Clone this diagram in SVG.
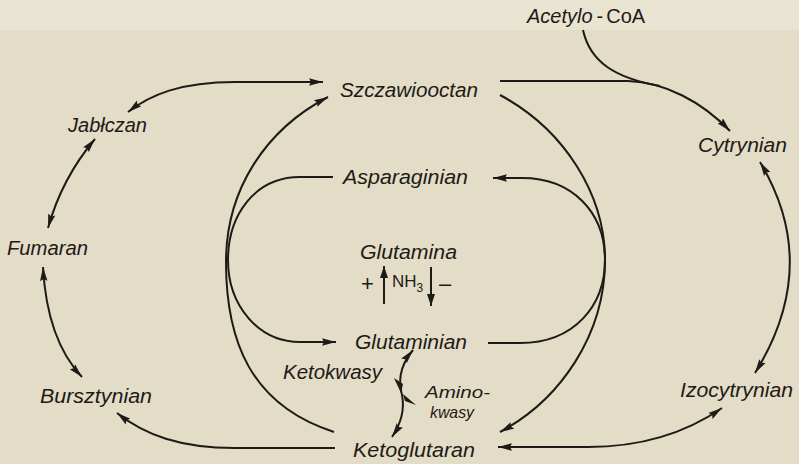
<svg xmlns="http://www.w3.org/2000/svg" width="799" height="464" viewBox="0 0 799 464">
<defs>
<style>
.lbl{font-family:"Liberation Sans","DejaVu Sans",sans-serif;font-style:italic;font-size:20px;fill:#1e1a16}
.sm{font-family:"Liberation Sans","DejaVu Sans",sans-serif;font-style:italic;font-size:17px;fill:#1e1a16}
.up{font-family:"Liberation Sans","DejaVu Sans",sans-serif;font-size:17px;fill:#1e1a16}
.big{font-family:"Liberation Sans","DejaVu Sans",sans-serif;font-size:22px;fill:#1e1a16}
.ln{fill:none;stroke:#1e1a16;stroke-width:2}
</style>
<marker id="ah" markerUnits="userSpaceOnUse" markerWidth="15" markerHeight="9" refX="14" refY="4.5" orient="auto-start-reverse" viewBox="0 0 15 9">
<path d="M0,0.8 L14,4.5 L0,8.2 L2,4.5 z" fill="#1e1a16"/>
</marker>
<marker id="ahs" markerUnits="userSpaceOnUse" markerWidth="13" markerHeight="9" refX="12" refY="4.5" orient="auto" viewBox="0 0 13 9">
<path d="M0,0.5 L12,4.5 L0,8.5 z" fill="#1e1a16"/>
</marker>
</defs>
<rect width="799" height="464" fill="#e3dcc7"/>
<rect width="799" height="30" fill="#e9e3d2"/>

<g id="connectors">
<path class="ln" d="M128,112 C150,95 180,82 235,82 L323,82" marker-start="url(#ah)" marker-end="url(#ah)"/>
<path class="ln" d="M95,139 Q62,178 48,228" marker-start="url(#ah)" marker-end="url(#ah)"/>
<path class="ln" d="M43,267 Q47,340 82,377" marker-start="url(#ah)" marker-end="url(#ah)"/>
<path class="ln" d="M335,448 L235,448 C180,448 145,435 117,413" marker-end="url(#ah)"/>
<path class="ln" d="M334,432 C250,405 226,340 226,262 C226,190 265,130 328,97" marker-end="url(#ah)"/>
<path class="ln" d="M333,177 L300,177 C255,177 228,215 228,260 C228,305 258,342 300,342 L336,342" marker-end="url(#ah)"/>
<path class="ln" d="M488,343 L520,343 C575,343 605,305 605,260 C605,212 572,178 522,178 L493,178" marker-end="url(#ah)"/>
<path class="ln" d="M500,95 C565,130 605,195 605,260 C605,335 560,400 500,432" marker-end="url(#ah)"/>
<path class="ln" d="M500,81 L628,81 C665,82 702,102 730,131" marker-end="url(#ah)"/>
<path class="ln" d="M583,30 C590,62 615,78 660,86"/>
<path class="ln" d="M760,162 Q822,265 755,373" marker-start="url(#ah)" marker-end="url(#ah)"/>
<path class="ln" d="M498,447 L588,447 C645,447 690,430 722,408" marker-start="url(#ah)" marker-end="url(#ah)"/>
<path class="ln" d="M413,350 C398,368 399,383 402,395 C405,410 400,425 392,437" marker-start="url(#ah)" marker-end="url(#ah)"/>
<polygon points="394,378 403,384 401,393" fill="#1e1a16"/>
<polygon points="416,405 403,394 405,401" fill="#1e1a16"/>
<path class="ln" stroke-width="2.6" d="M384,304 L384,266" marker-end="url(#ahs)"/>
<path class="ln" stroke-width="2.6" d="M431,267 L431,306" marker-end="url(#ahs)"/>
</g>

<g id="acetylo-coa"><text x="527" y="23" class="lbl">Acetylo<tspan font-style="normal" dx="4">-</tspan><tspan font-style="normal" dx="3">CoA</tspan></text></g>
<g id="szczawiooctan"><text x="340" y="97" class="lbl" textLength="138" lengthAdjust="spacingAndGlyphs">Szczawiooctan</text></g>
<g id="jablczan"><text x="68" y="132" class="lbl" textLength="79" lengthAdjust="spacingAndGlyphs">Jabłczan</text></g>
<g id="fumaran"><text x="7" y="255" class="lbl" textLength="81" lengthAdjust="spacingAndGlyphs">Fumaran</text></g>
<g id="bursztynian"><text x="40" y="403" class="lbl" textLength="112" lengthAdjust="spacingAndGlyphs">Bursztynian</text></g>
<g id="cytrynian"><text x="698" y="152" class="lbl" textLength="89" lengthAdjust="spacingAndGlyphs">Cytrynian</text></g>
<g id="izocytrynian"><text x="680" y="397" class="lbl" textLength="113" lengthAdjust="spacingAndGlyphs">Izocytrynian</text></g>
<g id="asparaginian"><text x="343" y="184" class="lbl" textLength="125" lengthAdjust="spacingAndGlyphs">Asparaginian</text></g>
<g id="glutamina"><text x="360" y="259" class="lbl" textLength="97" lengthAdjust="spacingAndGlyphs">Glutamina</text>
<text x="361" y="291" class="big">+</text>
<text x="392" y="287" class="up">NH<tspan font-size="12" dy="5">3</tspan></text>
<text x="439" y="291" class="big">–</text></g>
<g id="glutaminian"><text x="355" y="349" class="lbl" textLength="112" lengthAdjust="spacingAndGlyphs">Glutaminian</text></g>
<g id="ketoglutaran"><text x="353" y="457" class="lbl" textLength="122" lengthAdjust="spacingAndGlyphs">Ketoglutaran</text></g>
<g id="ketokwasy"><text x="283" y="379" class="lbl" textLength="99" lengthAdjust="spacingAndGlyphs">Ketokwasy</text></g>
<g id="aminokwasy"><text x="425" y="398" class="sm" textLength="65" lengthAdjust="spacingAndGlyphs">Amino-</text><text x="430" y="418" class="sm" textLength="44" lengthAdjust="spacingAndGlyphs">kwasy</text></g>
</svg>
